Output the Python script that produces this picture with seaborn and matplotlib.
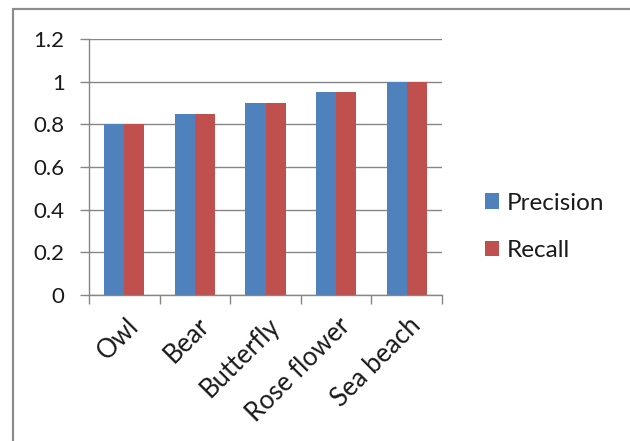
import matplotlib
matplotlib.use("Agg")
import matplotlib.pyplot as plt
from matplotlib.patches import Patch
from matplotlib.lines import Line2D
import seaborn as sns
import pandas as pd
import numpy as np

categories = ["Owl", "Bear", "Butterfly", "Rose flower", "Sea beach"]
precision = [0.8, 0.85, 0.9, 0.95, 1.0]
recall = [0.8, 0.85, 0.9, 0.95, 1.0]
series_names = ["Precision", "Recall"]
y_ticks = [0, 0.2, 0.4, 0.6, 0.8, 1.0, 1.2]
y_tick_labels = ["0", "0.2", "0.4", "0.6", "0.8", "1", "1.2"]

colors = ["#4F81BD", "#C0504D"]
grid_color = "#868686"

df = pd.DataFrame({
    "category": categories * 2,
    "value": precision + recall,
    "series": [series_names[0]] * len(categories) + [series_names[1]] * len(categories),
})

sns.set_theme(style="white")
plt.rcParams["font.family"] = ["Lato", "DejaVu Sans"]

W, H = 630, 441
fig = plt.figure(figsize=(W / 100, H / 100), dpi=100)
ax = fig.add_axes([89 / W, 1 - 295 / H, (442 - 89) / W, (295 - 39) / H])

sns.barplot(data=df, x="category", y="value", hue="series", order=categories,
            hue_order=series_names, palette=colors, width=0.567, gap=0,
            linewidth=0, saturation=1, legend=False, ax=ax)

ax.set_xlim(-0.5, len(categories) - 0.5)
ax.set_ylim(0, 1.2)
ax.set_yticks(y_ticks)
ax.set_yticklabels(y_tick_labels)
ax.set_axisbelow(True)
ax.yaxis.grid(True, color=grid_color, linewidth=1)
ax.xaxis.grid(False)
ax.set_xlabel("")
ax.set_ylabel("")

for s in ["top", "right"]:
    ax.spines[s].set_visible(False)
for s in ["left", "bottom"]:
    ax.spines[s].set_color(grid_color)
    ax.spines[s].set_linewidth(1)

ax.tick_params(axis="y", which="major", length=6.5, width=1, color=grid_color,
               direction="out", left=True, labelsize=16, pad=11, labelcolor="#1a1a1a")
# label positions (slightly right of category centres like the original) and boundary ticks
ax.set_xticks([i + 0.02 for i in range(len(categories))])
ax.set_xticklabels(categories, rotation=45, ha="right", va="top", rotation_mode="anchor")
ax.tick_params(axis="x", which="major", length=0, labelsize=18.5, pad=13, labelcolor="#1a1a1a")
ax.set_xticks(np.arange(-0.5, len(categories), 1.0), minor=True)
ax.tick_params(axis="x", which="minor", length=6.5, width=1, color=grid_color,
               direction="out", bottom=True)

handles = [Patch(facecolor=c, edgecolor="none") for c in colors]
fig.legend(handles, series_names, loc="center left",
           bbox_to_anchor=(485 / W, 1 - 227 / H), frameon=False,
           fontsize=17.5, handlelength=0.58, handleheight=0.58, handletextpad=0.33,
           labelspacing=1.1, borderpad=0, borderaxespad=0, labelcolor="#1a1a1a")

# outer chart frame (cut off at right and bottom as in the original)
fig.add_artist(Line2D([13 / W, 1.0], [1 - 9 / H, 1 - 9 / H], transform=fig.transFigure,
                      color="#8c8c8c", linewidth=1.6))
fig.add_artist(Line2D([13 / W, 13 / W], [0.0, 1 - 9 / H], transform=fig.transFigure,
                      color="#8c8c8c", linewidth=1.6))

fig.savefig("out.png", dpi=100, facecolor="white")
